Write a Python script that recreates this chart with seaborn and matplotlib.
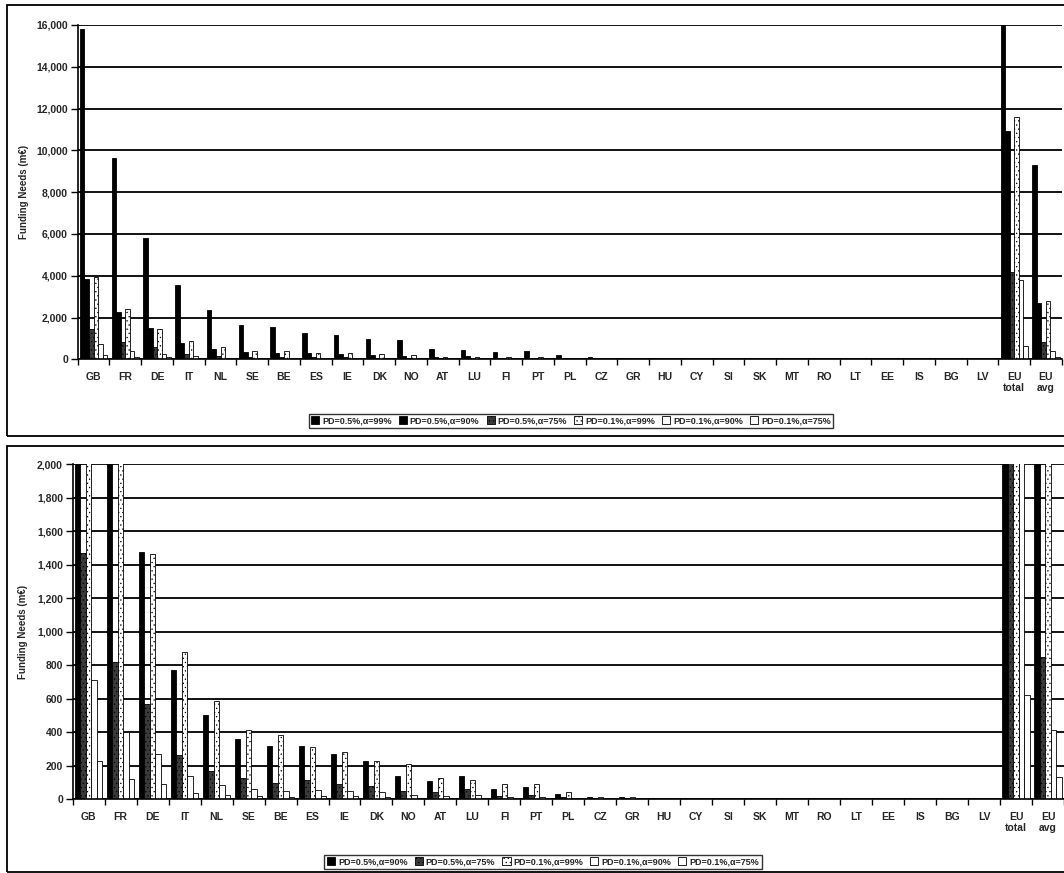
import pandas as pd
import matplotlib
matplotlib.use('Agg')
import matplotlib.pyplot as plt
import seaborn as sns
from matplotlib.patches import Rectangle
from matplotlib.ticker import FuncFormatter, MultipleLocator

# categories
countries = ['GB', 'FR', 'DE', 'IT', 'NL', 'SE', 'BE', 'ES', 'IE', 'DK', 'NO', 'AT', 'LU',
             'FI', 'PT', 'PL', 'CZ', 'GR', 'HU', 'CY', 'SI', 'SK', 'MT', 'RO', 'LT', 'EE',
             'IS', 'BG', 'LV', 'EU\ntotal', 'EU\navg']

labels = ['PD=0.5%,α=99%', 'PD=0.5%,α=90%', 'PD=0.5%,α=75%',
          'PD=0.1%,α=99%', 'PD=0.1%,α=90%', 'PD=0.1%,α=75%']

# funding needs (m€)
pd05_a99 = [15800, 9650, 5800, 3550, 2350, 1650, 1550, 1250, 1150, 950, 900, 510, 430,
            350, 380, 190, 90, 60, 40, 20, 20, 25, 15, 8, 5, 4, 2, 2, 1, 16200, 9300]
pd05_a90 = [3850, 2250, 1475, 770, 500, 360, 315, 315, 270, 225, 140, 105, 135,
            62, 70, 30, 12, 10, 6, 3, 3, 4, 2, 1.5, 1, 1, 0.5, 0.5, 0.3, 10950, 2700]
pd05_a75 = [1470, 820, 570, 260, 170, 125, 95, 115, 90, 80, 50, 40, 60,
            15, 25, 10, 4, 3, 2, 1, 1, 1, 0.5, 0.5, 0.3, 0.3, 0.2, 0.2, 0.1, 4200, 850]
pd01_a99 = [3950, 2400, 1465, 880, 585, 410, 385, 310, 280, 230, 210, 125, 115,
            89, 91, 41, 12, 12, 6, 3, 3, 4, 2, 1.5, 1, 1, 0.5, 0.5, 0.3, 11600, 2800]
pd01_a90 = [710, 400, 270, 135, 85, 60, 50, 55, 45, 40, 25, 15, 25,
            10, 10, 5, 2, 2, 1, 0.5, 0.5, 0.5, 0.3, 0.2, 0.2, 0.1, 0.1, 0.1, 0.1, 3800, 410]
pd01_a75 = [225, 120, 90, 35, 25, 15, 12, 20, 15, 10, 8, 5, 8,
            3, 3, 2, 1, 1, 0.5, 0.2, 0.2, 0.2, 0.1, 0.1, 0.1, 0.1, 0.1, 0.1, 0.1, 620, 130]

series_values = [pd05_a99, pd05_a90, pd05_a75, pd01_a99, pd01_a90, pd01_a75]

face = {labels[0]: 'black', labels[1]: 'black', labels[2]: '#3a3a3a',
        labels[3]: 'white', labels[4]: 'white', labels[5]: 'white'}
hatch = {labels[0]: '', labels[1]: '', labels[2]: '....',
         labels[3]: '....', labels[4]: '', labels[5]: ''}

sns.set_theme(style='white')
plt.rcParams['font.family'] = ['Liberation Sans', 'DejaVu Sans']
plt.rcParams['font.weight'] = 'bold'
plt.rcParams['hatch.linewidth'] = 0.4

W, H = 1064, 873


def to_long(use_labels):
    frames = []
    for lab, vals in zip(labels, series_values):
        if lab in use_labels:
            frames.append(pd.DataFrame({'country': countries, 'series': lab, 'value': vals}))
    return pd.concat(frames, ignore_index=True)


def draw_panel(ax, use_labels, ymax, step, ylab_x):
    df = to_long(use_labels)
    sns.barplot(data=df, x='country', y='value', hue='series', order=countries,
                hue_order=use_labels, palette=face, saturation=1, width=0.86,
                edgecolor='black', linewidth=0.6, errorbar=None, legend=False, ax=ax)
    for cont, lab in zip(ax.containers, use_labels):
        for p in cont:
            p.set_hatch(hatch[lab])
    ax.set_xlim(-0.5, len(countries) - 0.5)
    ax.set_ylim(0, ymax)
    ax.yaxis.set_major_locator(MultipleLocator(step))
    ax.yaxis.set_major_formatter(FuncFormatter(lambda v, _: f'{v:,.0f}'))
    ax.yaxis.grid(True, color='black', lw=1.3)
    ax.set_axisbelow(True)
    for s in ['top', 'right']:
        ax.spines[s].set_visible(False)
    for s in ['left', 'bottom']:
        ax.spines[s].set_color('black')
        ax.spines[s].set_linewidth(1.2)
    ax.set_xticks([i - 0.5 for i in range(len(countries) + 1)], minor=True)
    ax.tick_params(axis='x', which='major', length=0, pad=9, labelsize=7.5)
    ax.tick_params(axis='x', which='minor', length=4, width=1, color='black', direction='out', bottom=True)
    ax.tick_params(axis='y', length=5, width=1, color='black', direction='out', left=True,
                   labelsize=7.5, pad=2)
    ax.set_xlabel('')
    ax.set_ylabel('Funding Needs (m€)', fontsize=7, fontweight='bold')
    ax.yaxis.set_label_coords(ylab_x, 0.5)
    return list(ax.containers)


fig = plt.figure(figsize=(W / 100, H / 100), dpi=100)

ax1 = fig.add_axes([77.7 / W, 1 - 359.3 / H, (1061.8 - 77.7) / W, (359.3 - 25) / H])
h1 = draw_panel(ax1, labels, 16000, 2000, -0.049)

labels2 = labels[1:]
ax2 = fig.add_axes([72.7 / W, 1 - 799 / H, (1064 - 72.7) / W, (799 - 464.3) / H])
h2 = draw_panel(ax2, labels2, 2000, 200, -0.045)

leg_kw = dict(ncol=6, fontsize=6.5, frameon=True, fancybox=False, edgecolor='black',
              handlelength=0.9, handleheight=0.9, handletextpad=0.3, columnspacing=0.8,
              borderpad=0.3)
l1 = fig.legend(h1, labels, loc='upper center', bbox_to_anchor=(571 / W, 1 - 409 / H), **leg_kw)
l2 = fig.legend(h2, labels2, loc='upper center', bbox_to_anchor=(543 / W, 1 - 850 / H), **leg_kw)
for leg in (l1, l2):
    leg.get_frame().set_linewidth(1.0)
    leg.get_frame().set_boxstyle('square', pad=0)

# outer chart frames
fig.add_artist(Rectangle((7 / W, 1 - 436 / H), 1.1, (436 - 5) / H, transform=fig.transFigure,
                         fill=False, ec='black', lw=1.3))
fig.add_artist(Rectangle((7 / W, 1 - 872 / H), 1.1, (872 - 446) / H, transform=fig.transFigure,
                         fill=False, ec='black', lw=1.3))

fig.savefig('out.png', dpi=100, facecolor='white')
